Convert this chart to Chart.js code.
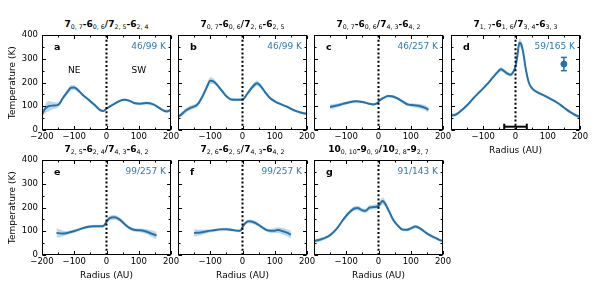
<!DOCTYPE html>
<html>
<head>
<meta charset="utf-8">
<script src="https://cdn.jsdelivr.net/npm/chart.js@4.4.1/dist/chart.umd.min.js"></script>
<style>
  html, body { margin: 0; padding: 0; background: #fff; overflow: hidden; }
  #wrap { position: relative; width: 598px; height: 282px; }
  canvas { position: absolute; }
  .ttl { position: absolute; width: 129px; text-align: center; font: bold 9px 'DejaVu Sans'; line-height: 12px; white-space: nowrap; color: #000; }
  .ttl sub { font-size: 6.3px; font-weight: normal; vertical-align: -2px; line-height: 0; }
</style>
</head>
<body>
<div id="wrap"></div>
<script>
// --- data: radius (AU), temperature (K), band half-width (K)
const radiusA = [-200, -190, -180, -165, -150, -135, -120, -110, -100, -90, -75, -55, -35, -20, -10, 0, 20, 40, 55, 70, 85, 105, 125, 145, 165, 180, 190, 200];
const tempA   = [66, 90, 100, 103, 106, 135, 163, 178, 179, 170, 150, 127, 103, 84, 80, 90, 107, 122, 128, 124, 114, 111, 114, 108, 92, 80, 79, 86];
const errA    = [10, 18, 22, 15, 10, 8, 10, 12, 10, 8, 6, 5, 5, 5, 5, 5, 5, 5, 5, 5, 5, 5, 6, 6, 6, 6, 7, 8];

const radiusB = [-200, -190, -175, -160, -140, -125, -110, -100, -90, -80, -65, -50, -35, -15, 0, 15, 30, 45, 55, 70, 85, 100, 120, 140, 160, 180, 200];
const tempB   = [56, 65, 83, 94, 107, 139, 183, 208, 205, 192, 167, 142, 129, 128, 128, 153, 180, 197, 187, 160, 135, 121, 108, 97, 83, 74, 68];
const errB    = [8, 9, 10, 10, 9, 9, 12, 14, 12, 9, 7, 6, 6, 6, 6, 7, 10, 12, 10, 8, 6, 5, 5, 5, 5, 5, 6];

const radiusC = [-150, -130, -110, -90, -70, -50, -30, -15, -5, 5, 15, 30, 45, 60, 75, 90, 110, 130, 145, 155];
const tempC   = [97, 103, 110, 117, 121, 118, 111, 108, 112, 126, 135, 143, 141, 132, 120, 108, 104, 100, 93, 86];
const errC    = [12, 9, 7, 6, 5, 5, 5, 5, 5, 5, 5, 6, 6, 6, 6, 7, 8, 10, 11, 12];

const radiusD = [-200, -185, -170, -150, -130, -110, -90, -70, -55, -45, -35, -25, -15, -5, 0, 5, 12, 18, 24, 31, 41, 52, 67, 88, 110, 130, 150, 170, 190, 200];
const tempD   = [62, 65, 80, 104, 135, 162, 190, 222, 245, 256, 248, 238, 233, 250, 268, 305, 368, 361, 326, 264, 201, 174, 160, 146, 130, 115, 95, 75, 60, 55];
const errD    = [8, 7, 6, 5, 5, 5, 6, 7, 8, 9, 8, 7, 7, 8, 10, 14, 18, 16, 12, 8, 6, 5, 5, 5, 5, 5, 5, 5, 5, 5];

const radiusE = [-155, -140, -125, -100, -80, -60, -40, -20, -8, 0, 10, 25, 40, 55, 70, 85, 105, 125, 140, 155];
const tempE   = [93, 91, 92, 101, 110, 118, 121, 121, 124, 140, 155, 159, 150, 132, 115, 106, 104, 98, 90, 82];
const errE    = [20, 14, 9, 7, 6, 6, 6, 6, 6, 8, 10, 10, 9, 8, 7, 7, 8, 11, 14, 16];

const radiusF = [-150, -130, -110, -90, -70, -50, -30, -15, -5, 0, 10, 20, 35, 50, 65, 80, 95, 110, 125, 140, 150];
const tempF   = [93, 95, 100, 104, 108, 109, 105, 102, 104, 118, 136, 142, 138, 127, 113, 103, 102, 105, 100, 93, 86];
const errF    = [16, 12, 8, 6, 6, 6, 6, 6, 6, 7, 8, 8, 8, 7, 7, 8, 10, 12, 14, 15, 16];

const radiusG = [-200, -185, -170, -150, -130, -110, -90, -75, -65, -50, -40, -28, -15, 0, 8, 13, 20, 30, 45, 60, 75, 88, 100, 115, 130, 150, 170, 190, 200];
const tempG   = [59, 63, 70, 84, 110, 148, 180, 196, 198, 188, 186, 200, 202, 207, 222, 228, 218, 192, 150, 124, 107, 106, 112, 120, 111, 91, 76, 63, 58];
const errG    = [8, 8, 7, 6, 6, 7, 9, 10, 10, 9, 9, 10, 10, 12, 14, 15, 13, 10, 8, 6, 6, 6, 6, 7, 6, 6, 6, 6, 7];

const panelLetters = ['a', 'b', 'c', 'd', 'e', 'f', 'g'];
const panelRatios  = ['46/99 K', '46/99 K', '46/257 K', '59/165 K', '99/257 K', '99/257 K', '91/143 K'];
const panelTitles  = [
  '7<sub>0, 7</sub>-6<sub>0, 6</sub>/7<sub>2, 5</sub>-6<sub>2, 4</sub>',
  '7<sub>0, 7</sub>-6<sub>0, 6</sub>/7<sub>2, 6</sub>-6<sub>2, 5</sub>',
  '7<sub>0, 7</sub>-6<sub>0, 6</sub>/7<sub>4, 3</sub>-6<sub>4, 2</sub>',
  '7<sub>1, 7</sub>-6<sub>1, 6</sub>/7<sub>3, 4</sub>-6<sub>3, 3</sub>',
  '7<sub>2, 5</sub>-6<sub>2, 4</sub>/7<sub>4, 3</sub>-6<sub>4, 2</sub>',
  '7<sub>2, 6</sub>-6<sub>2, 5</sub>/7<sub>4, 3</sub>-6<sub>4, 2</sub>',
  '10<sub>0, 10</sub>-9<sub>0, 9</sub>/10<sub>2, 8</sub>-9<sub>2, 7</sub>'
];
const radii  = [radiusA, radiusB, radiusC, radiusD, radiusE, radiusF, radiusG];
const temps  = [tempA, tempB, tempC, tempD, tempE, tempF, tempG];
const errs   = [errA, errB, errC, errD, errE, errF, errG];

// panel a side labels, panel d beam bar and typical error
const sideLabels = ['NE', 'SW'];
const sideLabelR = [-100, 100];
const sideLabelT = 250;
const beamR = [-35, 35];
const beamT = 14;
const errPointR = 150;
const errPointT = 278;
const errPointE = 28;

// --- layout
const colLeft = [42, 178, 314, 451];
const rowTop = [34, 159];
const plotW = 129, plotH = 96;
const lineColor = '#2671a8';
const bandColor = 'rgba(70,140,195,0.35)';
const FONT = "'DejaVu Sans'";

Chart.defaults.font.family = FONT;
Chart.defaults.color = '#000';

const fmt = v => (v < 0 ? '\u2212' + Math.abs(v) : String(v));

const framePlugin = {
  id: 'frame',
  afterDatasetsDraw(chart, args, opts) {
    const { ctx, chartArea: a, scales } = chart;
    ctx.save();
    ctx.strokeStyle = '#000';
    ctx.lineWidth = 1;
    const L = Math.round(a.left) + 0.5, R = Math.round(a.right) - 0.5;
    const T = Math.round(a.top) + 0.5, B = Math.round(a.bottom) - 0.5;
    ctx.beginPath();
    scales.x.ticks.forEach(t => {
      const px = Math.round(scales.x.getPixelForValue(t.value)) + 0.5;
      const len = t.value % 100 === 0 ? 3.5 : 2;
      ctx.moveTo(px, B); ctx.lineTo(px, B - len);
      ctx.moveTo(px, T); ctx.lineTo(px, T + len);
    });
    scales.y.ticks.forEach(t => {
      const py = Math.round(scales.y.getPixelForValue(t.value)) + 0.5;
      const len = t.value % 100 === 0 ? 3.5 : 2;
      ctx.moveTo(L, py); ctx.lineTo(L + len, py);
      ctx.moveTo(R, py); ctx.lineTo(R - len, py);
    });
    ctx.stroke();
    ctx.strokeRect(L, T, R - L, B - T);

    ctx.textBaseline = 'middle';
    ctx.font = 'bold 9.5px ' + FONT;
    ctx.fillStyle = '#000';
    ctx.textAlign = 'left';
    ctx.fillText(opts.letter, a.left + 12, a.top + 12);
    ctx.font = '9px ' + FONT;
    ctx.fillStyle = '#2f7ab3';
    ctx.textAlign = 'right';
    ctx.fillText(opts.ratio, a.right - 5, a.top + 12);
    if (opts.sides) {
      ctx.fillStyle = '#000';
      ctx.textAlign = 'center';
      sideLabels.forEach((s, i) => {
        ctx.fillText(s, scales.x.getPixelForValue(sideLabelR[i]), scales.y.getPixelForValue(sideLabelT));
      });
    }
    ctx.restore();
  }
};

const wrap = document.getElementById('wrap');

panelLetters.forEach((letter, i) => {
  const row = i < 4 ? 0 : 1;
  const col = row === 0 ? i : i - 4;
  const showY = col === 0;
  const xTitle = row === 1 || letter === 'd';
  const leftSpace = showY ? 42 : 8;
  const xH = xTitle ? 28 : 14;
  const W = leftSpace + plotW + 12;
  const H = 8 + plotH + xH;

  const title = document.createElement('div');
  title.className = 'ttl';
  title.style.left = colLeft[col] + 'px';
  title.style.top = (rowTop[row] - 16) + 'px';
  title.innerHTML = panelTitles[i];
  wrap.appendChild(title);

  const cv = document.createElement('canvas');
  cv.width = W; cv.height = H;
  cv.style.width = W + 'px'; cv.style.height = H + 'px';
  cv.style.left = (colLeft[col] - leftSpace) + 'px';
  cv.style.top = (rowTop[row] - 8) + 'px';
  wrap.appendChild(cv);

  const r = radii[i], t = temps[i], e = errs[i];
  const datasets = [
    { data: [{ x: 0, y: 0 }, { x: 0, y: 400 }], borderColor: '#000', borderWidth: 2, borderDash: [2, 2.2], pointRadius: 0, fill: false },
    { data: r.map((x, k) => ({ x, y: t[k] })), borderColor: lineColor, borderWidth: 2, pointRadius: 0, fill: false, cubicInterpolationMode: 'monotone' },
    { data: r.map((x, k) => ({ x, y: t[k] + e[k] })), borderWidth: 0, borderColor: 'rgba(0,0,0,0)', pointRadius: 0, fill: '+1', backgroundColor: bandColor, cubicInterpolationMode: 'monotone' },
    { data: r.map((x, k) => ({ x, y: t[k] - e[k] })), borderWidth: 0, borderColor: 'rgba(0,0,0,0)', pointRadius: 0, fill: false, cubicInterpolationMode: 'monotone' }
  ];
  if (letter === 'd') {
    datasets.unshift(
      { data: beamR.map(x => ({ x, y: beamT })), borderColor: '#000', borderWidth: 2, pointStyle: 'line', pointRadius: 3, pointRotation: 90, pointBorderWidth: 2, pointBorderColor: '#000', fill: false },
      { data: [{ x: errPointR, y: errPointT - errPointE }, { x: errPointR, y: errPointT + errPointE }], borderColor: lineColor, borderWidth: 1.5, pointStyle: 'line', pointRadius: 3, pointRotation: 0, pointBorderWidth: 1.5, pointBorderColor: lineColor, fill: false },
      { data: [{ x: errPointR, y: errPointT }], showLine: false, pointRadius: 3, pointBackgroundColor: lineColor, pointBorderColor: lineColor, fill: false }
    );
  }

  new Chart(cv.getContext('2d'), {
    type: 'line',
    data: { datasets },
    options: {
      responsive: false,
      animation: false,
      devicePixelRatio: 1,
      layout: { padding: { left: showY ? 0 : 8, right: 12, top: 8, bottom: 0 } },
      plugins: {
        legend: { display: false },
        tooltip: { enabled: false },
        frame: { letter, ratio: panelRatios[i], sides: letter === 'a' }
      },
      scales: {
        x: {
          type: 'linear', min: -200, max: 200,
          grid: { display: false, drawTicks: false, tickLength: 0 }, border: { display: false },
          ticks: {
            stepSize: 50, padding: 2, maxRotation: 0, autoSkip: false,
            font: { size: 8.5 }, color: '#000',
            callback: v => (v % 100 !== 0 || (!showY && v === -200)) ? '' : fmt(v)
          },
          title: { display: xTitle, text: 'Radius (AU)', font: { size: 9 }, color: '#000', padding: { top: 0, bottom: 2 } },
          afterFit: s => { s.height = xH; }
        },
        y: {
          min: 0, max: 400,
          grid: { display: false, drawTicks: false, tickLength: 0 }, border: { display: false },
          ticks: {
            stepSize: 50, padding: 4, autoSkip: false,
            font: { size: 8.5 }, color: '#000',
            callback: v => (showY && v % 100 === 0) ? String(v) : ''
          },
          title: { display: showY, text: 'Temperature (K)', font: { size: 9 }, color: '#000', padding: { top: 7, bottom: 0 } },
          afterFit: s => { s.width = showY ? 42 : 0; }
        }
      }
    },
    plugins: [framePlugin]
  });
});
</script>
</body>
</html>
